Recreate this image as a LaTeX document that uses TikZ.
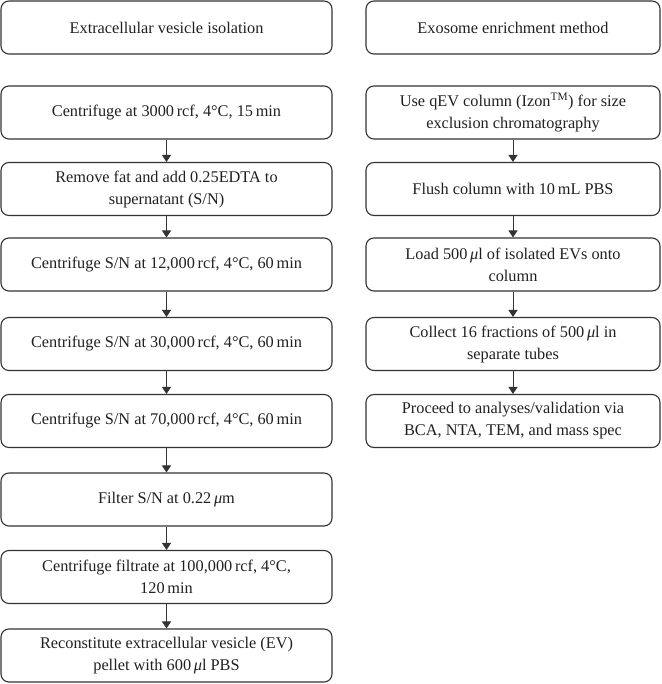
\documentclass[tikz,border=0pt]{standalone}
\usepackage{fontspec}
\setmainfont{Liberation Serif}
\usetikzlibrary{arrows.meta}
\definecolor{linec}{HTML}{333333}
\definecolor{textc}{HTML}{231F20}
\tikzset{
  stepbox/.style={draw=linec, line width=1.1pt, rounded corners=8pt, align=center,
    inner sep=0pt, minimum height=53pt, text=textc,
    font=\fontsize{16.3}{22}\selectfont},
  leftbox/.style={stepbox, minimum width=331pt},
  rightbox/.style={stepbox, minimum width=294pt},
  flow/.style={draw=linec, line width=1pt, -{Triangle[length=7pt,width=9pt]}}
}
\begin{document}
\begin{tikzpicture}[x=1pt,y=-1pt]
\useasboundingbox (0,0) rectangle (661,684);
% left column
\node[leftbox] (l0) at (166.5,27.5) {Extracellular vesicle isolation};
\node[leftbox] (l1) at (166.5,112.5) {Centrifuge at 3000\,rcf, 4°C, 15\,min};
\node[leftbox] (l2) at (166.5,189) {Remove fat and add 0.25EDTA to\\supernatant (S/N)};
\node[leftbox] (l3) at (166.5,264.5) {Centrifuge S/N at 12,000\,rcf, 4°C, 60\,min};
\node[leftbox] (l4) at (166.5,344) {Centrifuge S/N at 30,000\,rcf, 4°C, 60\,min};
\node[leftbox] (l5) at (166.5,421) {Centrifuge S/N at 70,000\,rcf, 4°C, 60\,min};
\node[leftbox] (l6) at (166.5,499.5) {Filter S/N at 0.22\,{\itshape μ}m};
\node[leftbox] (l7) at (166.5,577) {Centrifuge filtrate at 100,000\,rcf, 4°C,\\120\,min};
\node[leftbox] (l8) at (166.5,655.5) {Reconstitute extracellular vesicle (EV)\\pellet with 600\,{\itshape μ}l PBS};
% right column
\node[rightbox] (r0) at (513,27.5) {Exosome enrichment method};
\node[rightbox] (r1) at (513,112.5) {Use qEV column (Izon\textsuperscript{TM}) for size\\exclusion chromatography};
\node[rightbox] (r2) at (513,189) {Flush column with 10\,mL PBS};
\node[rightbox] (r3) at (513,264.5) {Load 500\,{\itshape μ}l of isolated EVs onto\\column};
\node[rightbox] (r4) at (513,344) {Collect 16 fractions of 500\,{\itshape μ}l in\\separate tubes};
\node[rightbox] (r5) at (513,421) {Proceed to analyses/validation via\\BCA, NTA, TEM, and mass spec};
% arrows
\foreach \a/\b in {l1/l2,l2/l3,l3/l4,l4/l5,l5/l6,l6/l7,l7/l8,r1/r2,r2/r3,r3/r4,r4/r5}
  \draw[flow] (\a.south) -- (\b.north);
\end{tikzpicture}
\end{document}
